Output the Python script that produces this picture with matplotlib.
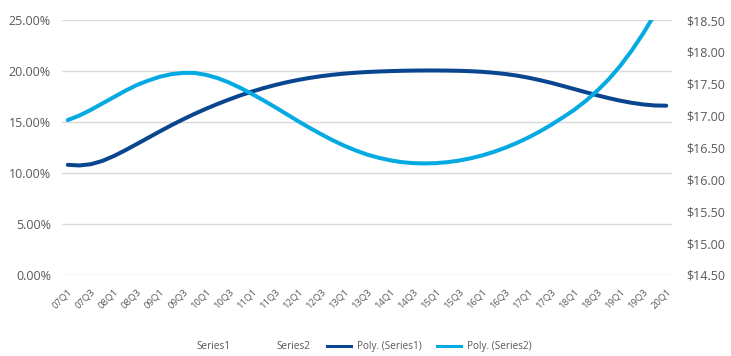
import matplotlib.pyplot as plt
from matplotlib.lines import Line2D
from matplotlib.ticker import FuncFormatter, MultipleLocator

plt.rcParams['font.family'] = ['Open Sans', 'DejaVu Sans']

# quarters 07Q1 .. 20Q1
quarters = [f"{y:02d}Q{q}" for y in range(7, 21) for q in range(1, 5)][:53]

# Poly. (Series1), left axis, in percent
poly_series1 = [
    10.80, 10.74, 10.86, 11.18, 11.66, 12.23, 12.84, 13.46, 14.08, 14.68,
    15.25, 15.79, 16.29, 16.76, 17.20, 17.61, 17.98, 18.32, 18.62, 18.89,
    19.12, 19.32, 19.49, 19.63, 19.74, 19.83, 19.90, 19.95, 19.99, 20.02,
    20.04, 20.05, 20.05, 20.04, 20.02, 19.98, 19.92, 19.83, 19.71, 19.55,
    19.35, 19.11, 18.84, 18.54, 18.23, 17.92, 17.62, 17.34, 17.09, 16.88,
    16.72, 16.62, 16.60,
]

# Poly. (Series2), right axis, in dollars
poly_series2 = [
    16.93, 17.00, 17.09, 17.19, 17.29, 17.39, 17.48, 17.55, 17.61, 17.65,
    17.67, 17.67, 17.64, 17.59, 17.52, 17.435, 17.34, 17.24, 17.135, 17.025,
    16.915, 16.81, 16.71, 16.615, 16.53, 16.455, 16.39, 16.34, 16.30, 16.27,
    16.255, 16.25, 16.255, 16.27, 16.295, 16.33, 16.375, 16.43, 16.495, 16.57,
    16.655, 16.75, 16.855, 16.97, 17.09, 17.23, 17.39, 17.57, 17.78, 18.02,
    18.29, 18.59, 18.92,
]

dark = '#0a468f'
light = '#05aae2'
grey = '#595959'

fig = plt.figure(figsize=(7.31, 3.56), dpi=100)
ax = fig.add_axes([62 / 731, 1 - 275 / 356, 610 / 731, 255 / 356])
ax2 = ax.twinx()

x = list(range(len(quarters)))
ax.plot(x, poly_series1, color=dark, lw=2.9, solid_capstyle='round', zorder=3)
ax2.plot(x, poly_series2, color=light, lw=2.9, solid_capstyle='round', zorder=3)

ax.set_xlim(-0.5, len(quarters) - 0.5)
ax.set_ylim(0, 25)
ax.yaxis.set_major_locator(MultipleLocator(5))
ax.yaxis.set_major_formatter(FuncFormatter(lambda v, p: f"{v:.2f}%"))
ax.grid(axis='y', color='#d9d9d9', lw=1)
ax.set_axisbelow(True)

ax2.set_ylim(14.5, 18.5)
ax2.yaxis.set_major_locator(MultipleLocator(0.5))
ax2.yaxis.set_major_formatter(FuncFormatter(lambda v, p: f"${v:.2f}"))

ax.set_xticks(x[::2])
ax.set_xticklabels(quarters[::2], rotation=45, ha='right', rotation_mode='anchor',
                   fontsize=6.8, color=grey)
ax.tick_params(axis='x', length=0, pad=9)
ax.tick_params(axis='y', length=0, pad=8, labelsize=9, labelcolor=grey)
ax2.tick_params(axis='y', length=0, pad=10, labelsize=9, labelcolor=grey)

for a in (ax, ax2):
    for s in a.spines.values():
        s.set_visible(False)

handles = [
    Line2D([], [], linestyle='none'),
    Line2D([], [], linestyle='none'),
    Line2D([], [], color=dark, lw=2.2),
    Line2D([], [], color=light, lw=2.2),
]
labels = ['Series1', 'Series2', 'Poly. (Series1)', 'Poly. (Series2)']
fig.legend(handles, labels, loc='center', bbox_to_anchor=(0.478, 0.026), ncol=4,
           frameon=False, fontsize=7.2, labelcolor=grey, handlelength=2.4,
           columnspacing=1.6, handletextpad=0.6, borderpad=0)

fig.savefig('out.png', dpi=100)
